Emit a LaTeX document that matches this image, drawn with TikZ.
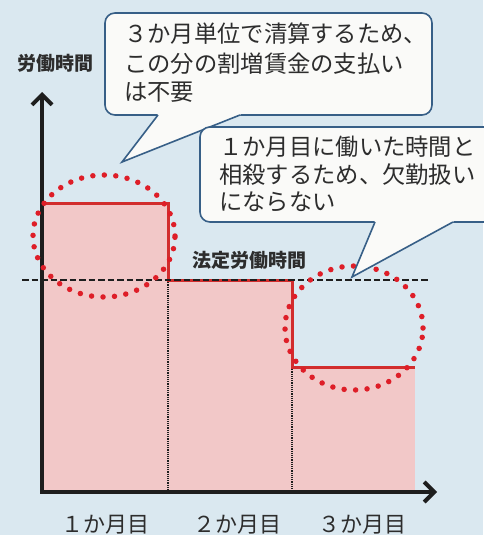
\documentclass[tikz,border=0pt]{standalone}
\usepackage{fontspec}
\setmainfont{Noto Sans CJK JP}
\usetikzlibrary{arrows.meta}
\definecolor{bg}{RGB}{218,232,240}
\definecolor{barfill}{RGB}{242,200,200}
\definecolor{stepred}{RGB}{210,45,45}
\definecolor{dotred}{RGB}{222,30,40}
\definecolor{axisc}{RGB}{30,30,30}
\definecolor{txt}{RGB}{45,45,45}
\definecolor{callborder}{RGB}{55,95,135}
\definecolor{callfill}{RGB}{250,250,248}
\tikzset{
  callbox/.style={draw=callborder, fill=callfill, line width=1.6pt, rounded corners=10pt},
  callptr/.style={draw=callborder, line width=1.6pt, line join=miter},
  calltext/.style={anchor=base west, inner sep=0pt, text=txt, font=\fontsize{23.3pt}{29pt}\selectfont},
  boldlabel/.style={anchor=center, inner sep=0pt, text=txt, font=\fontsize{19pt}{22pt}\selectfont\bfseries},
  monthlabel/.style={anchor=center, inner sep=0pt, text=txt, font=\fontsize{22pt}{24pt}\selectfont},
  divider/.style={draw=axisc, line width=1.2pt, densely dotted},
  legal/.style={draw=axisc, line width=2.2pt, dash pattern=on 6.5pt off 3pt},
  dotring/.style={draw=dotred, line width=5.5pt, line cap=round, dash pattern=on 0pt off 11.5pt},
  axisline/.style={draw=axisc, line width=4pt, line join=miter,
    {Straight Barb[length=10pt,width=20pt]}-{Straight Barb[length=10pt,width=20pt]}}
}
\begin{document}
\begin{tikzpicture}[x=1pt,y=-1pt]
\useasboundingbox (0,0) rectangle (483,535);
\fill[bg] (0,0) rectangle (483,535);

% key points
\coordinate (O) at (42,492);
\coordinate (ytip) at (42,92);
\coordinate (xtip) at (437,492);
\coordinate (b1tl) at (42,203);
\coordinate (b1tr) at (168,203);
\coordinate (b2tl) at (168,280);
\coordinate (b2tr) at (292,280);
\coordinate (b3tl) at (292,367);
\coordinate (b3tr) at (415,367);
\coordinate (d1) at (168,492);
\coordinate (d2) at (292,492);
\coordinate (b3br) at (415,492);
\coordinate (legalL) at (22,280);
\coordinate (legalR) at (430,280);

% bars
\fill[barfill] (b1tl) rectangle (d1);
\fill[barfill] (b2tl) rectangle (d2);
\fill[barfill] (b3tl) rectangle (b3br);

% dividers
\draw[divider] (b2tl) -- (d1);
\draw[divider] (b3tl) -- (d2);

% red step line
\draw[stepred, line width=3pt, line join=miter] (b1tl) -- (b1tr) -- (b2tl) -- (b2tr) -- (b3tl) -- (b3tr);

% legal working hours
\draw[legal] (legalL) -- (legalR);
\node[boldlabel] (legaltext) at (249,260) {法定労働時間};

% axes
\draw[axisline] (ytip) -- (O) -- (xtip);
\node[boldlabel] (ylabel) at (55,63) {労働時間};

% month labels
\node[monthlabel] (m1) at (105,525) {１か月目};
\node[monthlabel] (m2) at (237,525) {２か月目};
\node[monthlabel] (m3) at (362,525) {３か月目};

% dotted rings
\draw[dotring] (104,236) ellipse [x radius=71pt, y radius=61pt];
\draw[dotring] (354,328) ellipse [x radius=69pt, y radius=62pt];

% callout 1
\draw[callbox] (105,13) rectangle (432,115);
\fill[callfill] (157,113) -- (241,113) -- (240,115.5) -- (122,162) -- (158,115.5) -- cycle;
\draw[callptr] (158,115) -- (122,162) -- (240,115);
\node[calltext] (c1a) at (124,42) {３か月単位で清算するため、};
\node[calltext] (c1b) at (124,72) {この分の割増賃金の支払い};
\node[calltext] (c1c) at (124,100.5) {は不要};

% callout 2
\draw[callbox] (200,127) rectangle (500,222);
\fill[callfill] (374,220) -- (454,220) -- (453,222.5) -- (352,277) -- (375,222.5) -- cycle;
\draw[callptr] (375,222) -- (352,277) -- (453,222);
\node[calltext] (c2a) at (219,155.5) {１か月目に働いた時間と};
\node[calltext] (c2b) at (219,183.5) {相殺するため、欠勤扱い};
\node[calltext] (c2c) at (219,210.5) {にならない};
\end{tikzpicture}
\end{document}
